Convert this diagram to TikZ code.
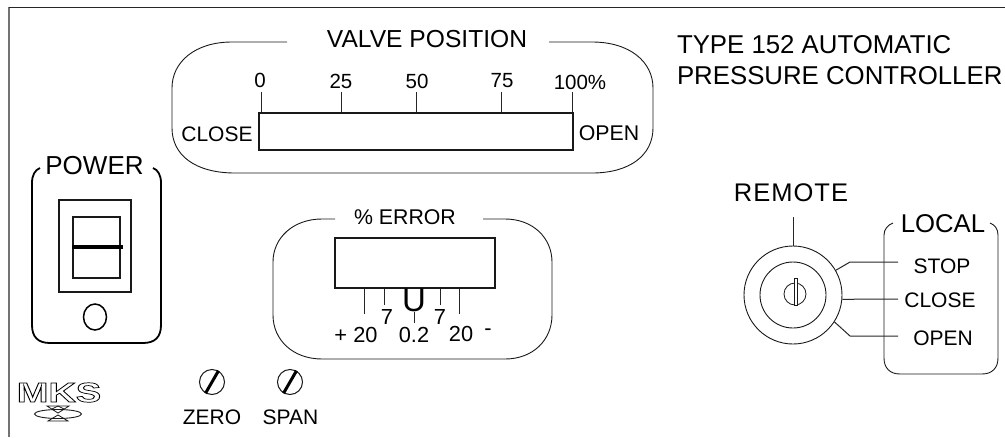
\documentclass[tikz,border=0pt]{standalone}
\usepackage{fontspec}
\usetikzlibrary{shapes.geometric}
\setmainfont{Liberation Sans}
\newfontfamily\logofont{Liberation Sans Bold}
\tikzset{
  lbl/.style={inner sep=0pt,outer sep=0pt,font=\fontsize{#1}{#1}\selectfont},
  panel/.style={draw=black!90,line width=0.9pt},
  heavy/.style={draw=black,line width=1.8pt},
  tick/.style={draw=black!85,line width=1pt},
  boxline/.style={draw=black!90,line width=1.1pt},
}
\begin{document}
\begin{tikzpicture}[x=1pt,y=-1pt]
\useasboundingbox (0,0) rectangle (1005,437);
% frame
\draw[draw=black!55,line width=1.8pt] (9,437) -- (9,7);
\draw[draw=black!85,line width=1pt] (9,7) -- (1005,7);
% title
\node[lbl=25.8,anchor=west] (t1) at (677,45) {TYPE 152 AUTOMATIC};
\node[lbl=25.8,anchor=west] (t2) at (677,76) {PRESSURE CONTROLLER};
% valve panel
\draw[panel] (287,42) -- (232,42) .. controls (195,42) and (172,62) .. (172,88) -- (172,128) .. controls (172,155) and (195,173) .. (235,173) -- (592,173) .. controls (630,173) and (653,155) .. (653,128) -- (653,88) .. controls (653,62) and (630,42) .. (592,42) -- (549,42);
\node[lbl=24.6] (vp) at (427,39) {VALVE POSITION};
\node[boxline,draw,minimum width=314pt,minimum height=37pt,inner sep=0pt] (vbar) at (416,131.5) {};
\coordinate (v0) at (261,92);
\coordinate (v25) at (341,92);
\coordinate (v50) at (416,92);
\coordinate (v75) at (501,92);
\coordinate (v100) at (572,92);
\foreach \c in {v0,v25,v50,v75,v100} \draw[tick] (\c) -- (\c |- vbar.north);
\node[lbl=20.5] (n0) at (260,80) {0};
\node[lbl=20.5] (n25) at (341,81) {25};
\node[lbl=20.5] (n50) at (417,81) {50};
\node[lbl=20.5] (n75) at (502,81) {75};
\node[lbl=20.5] (n100) at (580,82) {100\%};
\node[lbl=21] (vclose) at (217,134) {CLOSE};
\node[lbl=21.3] (vopen) at (609,133) {OPEN};
% power
\draw[heavy] (40,168) .. controls (35,170) and (32,175) .. (32,183) -- (32,325) .. controls (32,337) and (38,343) .. (50,343) -- (143,343) .. controls (155,343) and (161,337) .. (161,325) -- (161,183) .. controls (161,175) and (158,170) .. (153,168);
\node[lbl=26] (pw) at (94.5,166) {POWER};
\node[draw=black!90,line width=1.2pt,minimum width=72pt,minimum height=92pt,inner sep=0pt] (pouter) at (95,246) {};
\node[draw=black!90,line width=1.2pt,minimum width=47pt,minimum height=61pt,inner sep=0pt] (pinner) at (96.5,247.5) {};
\coordinate (pend) at (123,247);
\draw[draw=black,line width=3.2pt] (pinner.west |- pend) -- (pend);
\node[draw=black,line width=1.5pt,ellipse,minimum width=23pt,minimum height=26pt,inner sep=0pt] (led) at (95,317) {};
% screws
\node[draw=black!90,line width=1pt,circle,minimum size=25pt,inner sep=0pt] (szero) at (212,382) {};
\draw[draw=black,line width=3pt] (szero.-120) -- (szero.60);
\node[draw=black!90,line width=1pt,circle,minimum size=25pt,inner sep=0pt] (sspan) at (290,382) {};
\draw[draw=black,line width=3pt] (sspan.-120) -- (sspan.60);
\node[lbl=21] (zero) at (212,417) {ZERO};
\node[lbl=21] (span) at (290.5,417) {SPAN};
% MKS logo
\node[inner sep=0pt,xscale=1.38,transform shape] (mks) at (59,392.5) {\special{pdf:code 1 Tr 0.7 w}\logofont\fontsize{27.5}{27.5}\selectfont MKS\special{pdf:code 0 Tr}};
\draw[draw=black!90,line width=0.9pt] (58,414) ellipse [x radius=23.5, y radius=4.5];
\draw[draw=black!90,line width=0.8pt] (47,406) -- (69,406) -- (58,413) -- cycle;
\draw[draw=black!90,line width=0.8pt] (52,409) -- (58,406) -- (64,409);
\draw[draw=black!90,line width=0.8pt] (48,421) -- (68,421) -- (58,415) -- cycle;
% error panel
\draw[panel] (335,219) -- (322,219) .. controls (293,219) and (273,238) .. (273,262) -- (273,315) .. controls (273,340) and (293,359) .. (322,359) -- (505,359) .. controls (533,359) and (552,340) .. (552,315) -- (552,262) .. controls (552,238) and (533,219) .. (505,219) -- (483,219);
\node[lbl=21.3] (err) at (405,217) {\% ERROR};
\node[boxline,draw,minimum width=160pt,minimum height=50pt,inner sep=0pt] (ebar) at (415,263) {};
\coordinate (e1) at (364,314);
\coordinate (e2) at (384,305);
\coordinate (e3) at (440,305);
\coordinate (e4) at (459,314);
\foreach \c in {e1,e2,e3,e4} \draw[tick] (\c) -- (\c |- ebar.south);
\node[lbl=33] (uu) at (414,300) {U};
\coordinate (e5t) at (414,312);
\coordinate (e5b) at (414,323);
\draw[tick] (e5t) -- (e5b);
\node[lbl=21.8] (l1) at (356,335) {+ 20};
\node[lbl=21.8] (l2) at (387,317) {7};
\node[lbl=21.8] (l3) at (414,335) {0.2};
\node[lbl=21.8] (l4) at (440,317) {7};
\node[lbl=21.8] (l5) at (461,334) {20};
\node[lbl=21.8] (l6) at (488,332) {-};
% remote switch
\node[lbl=25.5] (remote) at (791,193) {\addfontfeature{LetterSpace=4}REMOTE};
\node[draw=black!90,line width=0.9pt,circle,minimum size=98pt,inner sep=0pt] (knob) at (793,295) {};
\node[draw=black!90,line width=0.9pt,circle,minimum size=66pt,inner sep=0pt] (knobin) at (793,295) {};
\node[draw=black!90,line width=0.8pt,circle,minimum size=22pt,inner sep=0pt] (keyc) at (795,294) {};
\node[draw=black!90,line width=0.8pt,fill=white,minimum width=3pt,minimum height=27pt,inner sep=0pt] (key) at (796,291.5) {};
\coordinate (rtop) at (793,217);
\draw[tick] (rtop) -- (knob.north);
% local
\draw[panel] (893,223) .. controls (888,225) and (884,229) .. (884,235) -- (884,358) .. controls (884,368) and (890,374) .. (900,374) -- (982,374) .. controls (992,374) and (998,368) .. (998,358) -- (998,235) .. controls (998,229) and (995,225) .. (990,223);
\node[lbl=25.7] (local) at (943,224) {LOCAL};
\node[lbl=21] (stop) at (942,266) {STOP};
\node[lbl=21] (close) at (940,300) {CLOSE};
\node[lbl=21] (open) at (943,338) {OPEN};
\coordinate (cstop) at (898,262);
\coordinate (cclose) at (898,299);
\coordinate (copen) at (898,336);
\draw[tick] (cstop) -- (850,262) -- (knob.30);
\draw[tick] (cclose) -- (knob.-5);
\draw[tick] (copen) -- (850,336) -- (knob.-33);
\end{tikzpicture}
\end{document}
